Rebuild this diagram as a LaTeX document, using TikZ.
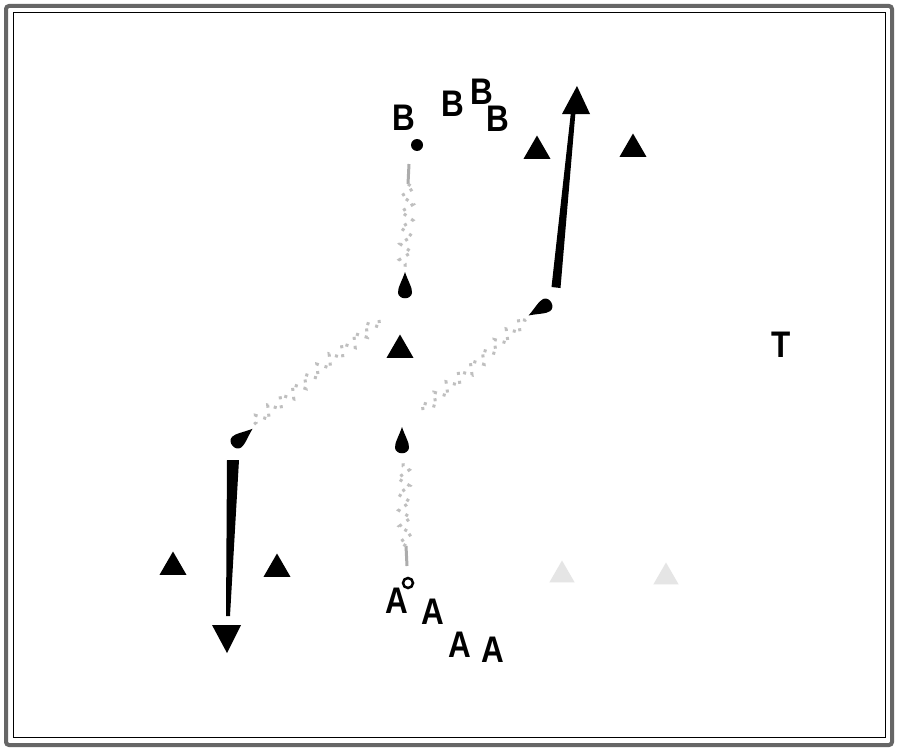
\documentclass[tikz,border=0pt]{standalone}
\usepackage{fontspec}
\setmainfont{Liberation Sans}
\usetikzlibrary{decorations.pathmorphing,shapes.geometric}
\tikzset{
  lbl/.style={font=\bfseries\fontsize{37}{37}\selectfont, inner sep=0pt, xscale=0.85},
  cone/.style={regular polygon, regular polygon sides=3, fill=black, minimum size=31pt, inner sep=0pt},
  lightcone/.style={regular polygon, regular polygon sides=3, fill=gray!20, minimum size=29pt, inner sep=0pt},
  dribble/.style={draw=gray!50, line width=3pt, dash pattern=on 3pt off 6pt,
     decorate, decoration={zigzag, segment length=16pt, amplitude=6pt}},
  stub/.style={draw=gray!65, line width=3pt},
  frameout/.style={draw=gray!80!black, line width=4pt, rounded corners=3pt},
  framein/.style={draw=black, line width=1pt}
}
\newcommand\tdrop[3]{%
  \fill[shift={(#1,#2)}, rotate=#3] (0,-19) .. controls (3,-10) and (7.5,-3) .. (7,2)
     .. controls (6,9) and (-6,9) .. (-7,2) .. controls (-7.5,-3) and (-3,-10) .. (0,-19) -- cycle;}
\begin{document}
\begin{tikzpicture}[x=1pt,y=-1pt]
\useasboundingbox (0,0) rectangle (900,752);
\fill[white] (0,0) rectangle (900,752);
\draw[frameout] (6,6) rectangle (892,745);
\draw[framein] (13,13) rectangle (885,737);

% B players
\node[lbl] (b1) at (404,118) {B};
\node[lbl] (b2) at (453,104) {B};
\node[lbl] (b3) at (482,92) {B};
\node[lbl] (b4) at (498,119) {B};
% A players
\node[lbl] (a1) at (397,601) {A};
\node[lbl] (a2) at (433,612) {A};
\node[lbl] (a3) at (460,645) {A};
\node[lbl] (a4) at (493,650) {A};
% T
\node[lbl] (t) at (781,345) {T};

% cones
\node[cone] (c1) at (537,151) {};
\node[cone] (c2) at (633,149) {};
\node[cone] (c3) at (400,350) {};
\node[cone] (c4) at (173,567) {};
\node[cone] (c5) at (277,569) {};
\node[lightcone] (c6) at (562,575) {};
\node[lightcone] (c7) at (666,577) {};

% ball and start points
\fill (417,145) circle (6);
\coordinate (p1) at (417,145);
\draw[line width=2.5pt] (408,583) circle (5);
\coordinate (p2) at (408,583);

% dribbles
\coordinate (d1s) at (409,164);
\coordinate (d1a) at (408,184);
\coordinate (d1e) at (405,270);
\draw[stub] (d1s) -- (d1a);
\draw[dribble] (d1a) -- (d1e);
\tdrop{405}{291}{0}

\coordinate (d2s) at (379,320);
\coordinate (d2e) at (252,426);
\draw[dribble] (d2s) -- (d2e);
\tdrop{238}{441}{-50}

\coordinate (d3s) at (423,410);
\coordinate (d3e) at (530,316);
\draw[dribble] (d3s) -- (d3e);
\tdrop{545}{306}{120}

\coordinate (d4s) at (407,566);
\coordinate (d4a) at (406,546);
\coordinate (d4e) at (403,462);
\draw[stub] (d4s) -- (d4a);
\draw[dribble] (d4a) -- (d4e);
\tdrop{402}{446}{0}

% passes
\fill (551.5,287) -- (560.5,288) -- (575.5,112) -- (571,111.5) -- cycle;
\fill (577,86) -- (590,114) -- (562,114) -- cycle;
\coordinate (pu) at (577,86);

\fill (227,460) -- (239,460) -- (230,616) -- (226,616) -- cycle;
\fill (212,625) -- (241,625) -- (227,653) -- cycle;
\coordinate (pd) at (227,653);
\end{tikzpicture}
\end{document}
